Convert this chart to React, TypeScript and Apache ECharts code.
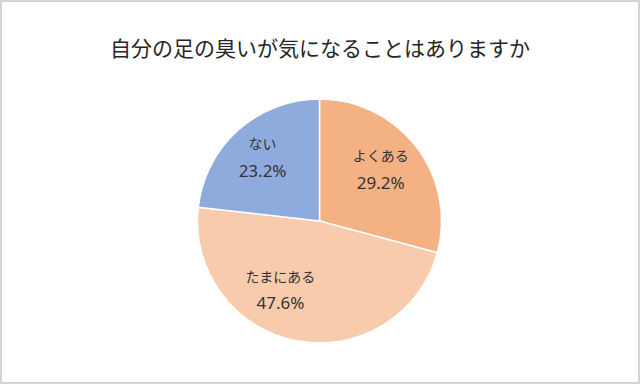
import React, { useEffect, useRef } from "react";
import * as echarts from "echarts";

const TITLE = "自分の足の臭いが気になることはありますか";
const categories = ["よくある", "たまにある", "ない"];
const values = [29.2, 47.6, 23.2];
const colors = ["#F4B183", "#F8CBAD", "#8FAADC"];

// label placement styling (fraction of radius, angular shift in degrees)
const labelRadiusRatio = [0.66, 0.645, 0.705];
const labelAngleShift = [-3, 19, 0.3];

const CX = 319.5;
const CY = 221;
const R = 122;

export default function App() {
  const ref = useRef<HTMLDivElement>(null);

  useEffect(() => {
    if (!ref.current) return;
    const chart = echarts.init(ref.current, undefined, { renderer: "svg" });
    const total = values.reduce((a, b) => a + b, 0);
    const midAngles: number[] = [];
    let acc = 0;
    values.forEach((v) => {
      midAngles.push(((acc + v / 2) / total) * 360);
      acc += v;
    });

    chart.setOption({
      animation: false,
      backgroundColor: "#ffffff",
      title: {
        text: TITLE,
        left: "center",
        top: 31,
        textStyle: {
          fontFamily: "Noto Sans CJK JP",
          fontSize: 21,
          fontWeight: "normal",
          color: "#262626",
        },
      },
      graphic: [
        {
          type: "rect",
          shape: { x: 1, y: 1, width: 638, height: 382 },
          style: { fill: "none", stroke: "#d4d4d4", lineWidth: 2 },
          silent: true,
        },
      ],
      series: [
        {
          type: "pie",
          center: [CX, CY],
          radius: R,
          startAngle: 90,
          clockwise: true,
          itemStyle: { borderColor: "#ffffff", borderWidth: 1.5 },
          label: {
            show: true,
            position: "inside",
            formatter: (p: any) => `{n|${p.name}}\n{v|${p.value}%}`,
            rich: {
              n: {
                fontFamily: "Noto Sans CJK JP",
                fontSize: 14,
                color: "#333333",
                lineHeight: 27,
                align: "center",
              },
              v: {
                fontFamily: "Noto Sans",
                fontSize: 17,
                color: "#333333",
                lineHeight: 27,
                align: "center",
              },
            },
          },
          labelLine: { show: false },
          labelLayout: (params: any) => {
            const i = params.dataIndex;
            const a = ((midAngles[i] + labelAngleShift[i]) * Math.PI) / 180;
            const d = R * labelRadiusRatio[i];
            return {
              x: CX + d * Math.sin(a),
              y: CY - d * Math.cos(a),
              align: "center",
              verticalAlign: "middle",
            };
          },
          data: categories.map((name, i) => ({
            name,
            value: values[i],
            itemStyle: { color: colors[i] },
          })),
        },
      ],
    });
    return () => chart.dispose();
  }, []);

  return (
    <div
      ref={ref}
      style={{ position: "absolute", left: 0, top: 0, width: 640, height: 384 }}
    />
  );
}
